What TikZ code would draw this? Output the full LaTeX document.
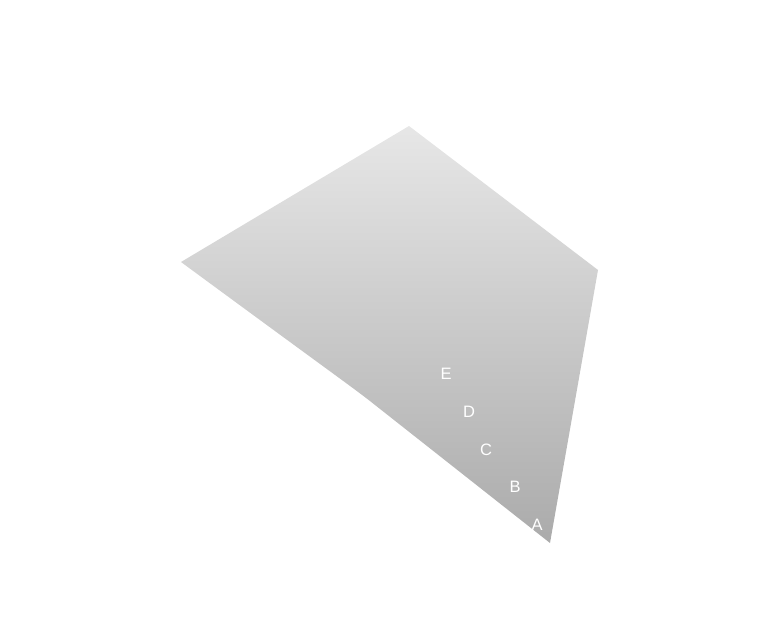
\documentclass[tikz,border=0pt]{standalone}
\usepackage{fontspec}
\setsansfont{Liberation Sans}

\begin{document}
\begin{tikzpicture}[x=1pt, y=1pt,
    letter/.style={text=white, font=\sffamily\fontsize{16.5}{19}\selectfont, inner sep=0pt}]
    % Canvas
    \useasboundingbox (0,0) rectangle (777,633);

    % Quadrilateral face
    \shade[top color=gray!19, bottom color=gray!66]
        (409,507) -- (598,363) -- (550,90)
        -- (375,228) .. controls (355,244) and (340,254) .. (181,371) -- cycle;

    % Labels
    \node[letter] (e) at (446,259) {E};
    \node[letter] (d) at (469,221) {D};
    \node[letter] (c) at (486,183) {C};
    \node[letter] (b) at (515,146) {B};
    \node[letter] (a) at (537,108) {A};

\end{tikzpicture}
\end{document}
